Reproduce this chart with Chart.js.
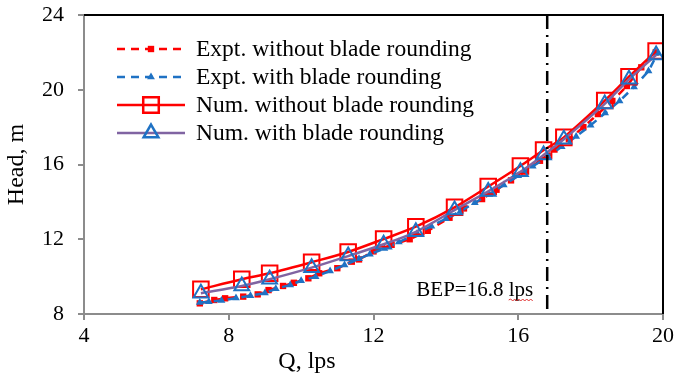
<!DOCTYPE html>
<html>
<head>
<meta charset="utf-8">
<script src="https://cdn.jsdelivr.net/npm/chart.js@4.4.1/dist/chart.umd.min.js"></script>
<style>
  html, body { margin: 0; padding: 0; background: #fff; }
</style>
</head>
<body>
<canvas id="myChart" width="676" height="378"></canvas>
<script>
// --- data ---
const xTicks = [4, 8, 12, 16, 20];
const yTicks = [8, 12, 16, 20, 24];
const bepQ = 16.8;

const qExptWithout = [7.2, 7.6, 7.9, 8.4, 8.8, 9.1, 9.5, 9.8, 10.2, 10.5, 11.0, 11.4, 11.6, 12.0, 12.5, 13.0, 13.5, 14.1, 14.5, 15.0, 15.4, 15.8, 16.2, 16.6, 17.0, 17.4, 17.8, 18.2, 18.6, 19.0, 19.4, 19.8];
const hExptWithout = [8.57, 8.75, 8.84, 8.93, 9.05, 9.28, 9.50, 9.67, 9.91, 10.18, 10.45, 10.80, 10.92, 11.35, 11.70, 12.00, 12.45, 13.15, 13.65, 14.15, 14.65, 15.15, 15.65, 16.20, 16.80, 17.35, 18.00, 18.70, 19.40, 20.20, 21.20, 22.00];

const qExptWith = [7.2, 7.45, 7.8, 8.2, 8.6, 9.0, 9.3, 9.7, 10.0, 10.4, 10.8, 11.2, 11.6, 11.9, 12.3, 12.7, 13.2, 13.6, 14.0, 14.4, 14.8, 15.2, 15.6, 16.0, 16.4, 16.8, 17.2, 17.6, 18.0, 18.4, 18.8, 19.2, 19.6, 19.85];
const hExptWith = [8.62, 8.65, 8.72, 8.85, 8.98, 9.12, 9.35, 9.55, 9.78, 10.00, 10.30, 10.62, 10.95, 11.20, 11.50, 11.85, 12.30, 12.70, 13.10, 13.50, 13.95, 14.40, 14.90, 15.40, 15.90, 16.40, 16.95, 17.50, 18.10, 18.75, 19.40, 20.15, 21.00, 21.95];

const qNum = [7.23, 8.36, 9.13, 10.29, 11.30, 12.28, 13.17, 14.24, 15.17, 16.06, 16.70, 17.26, 18.39, 19.06, 19.81];
const hNumWithout = [9.32, 9.86, 10.18, 10.77, 11.32, 12.01, 12.67, 13.71, 14.82, 15.92, 16.77, 17.45, 19.42, 20.70, 22.07];
const hNumWith = [9.11, 9.50, 9.86, 10.48, 11.10, 11.73, 12.40, 13.56, 14.56, 15.61, 16.51, 17.35, 19.24, 20.56, 21.86];

const seriesNames = ['Expt. without blade rounding', 'Expt. with blade rounding', 'Num. without blade rounding', 'Num. with blade rounding'];

const pts = (xs, ys) => xs.map((x, i) => ({ x: x, y: ys[i] }));

const RED = '#ff0000';
const BLUE = '#1f72c4';
const PURPLE = '#8064a2';
const SERIF = "'Liberation Serif', 'Times New Roman', serif";

// frame, BEP line, legend, x title
const extras = {
  id: 'extras',
  afterDatasetsDraw(chart) {
    const ctx = chart.ctx;
    const a = chart.chartArea;
    const xs = chart.scales.x;

    // BEP dash-dot line
    const bx = xs.getPixelForValue(bepQ);
    ctx.save();
    ctx.strokeStyle = '#000';
    ctx.lineWidth = 2.5;
    ctx.setLineDash([14, 6, 2, 6]);
    ctx.beginPath();
    ctx.moveTo(bx, a.top);
    ctx.lineTo(bx, a.bottom);
    ctx.stroke();
    ctx.restore();

    // top and right frame
    ctx.save();
    ctx.strokeStyle = '#000';
    ctx.lineWidth = 2;
    ctx.beginPath();
    ctx.moveTo(a.left, a.top);
    ctx.lineTo(a.right, a.top);
    ctx.lineTo(a.right, a.bottom);
    ctx.stroke();
    ctx.restore();

    // BEP label
    ctx.save();
    ctx.font = '21px ' + SERIF;
    ctx.fillStyle = '#000';
    ctx.textAlign = 'right';
    ctx.textBaseline = 'middle';
    ctx.fillText('BEP=16.8 lps', bx - 14, a.bottom - 24);
    // spell-check squiggle under "lps"
    const w = ctx.measureText('lps').width;
    ctx.strokeStyle = '#e03030';
    ctx.lineWidth = 1;
    ctx.beginPath();
    let sx = bx - 14 - w;
    const sy = a.bottom - 14;
    ctx.moveTo(sx, sy);
    let up = true;
    for (let px = sx + 2; px <= bx - 14; px += 2) {
      ctx.lineTo(px, sy + (up ? -1 : 1));
      up = !up;
    }
    ctx.stroke();
    ctx.restore();

    // legend
    const x0 = 117, x1 = 185, tx = 196;
    const rowY = [49, 77, 105, 133];
    chart.data.datasets.forEach((ds, r) => {
      const y = rowY[r];
      ctx.save();
      ctx.strokeStyle = ds.borderColor;
      ctx.lineWidth = ds.borderWidth;
      ctx.setLineDash(ds.borderDash || []);
      ctx.beginPath();
      ctx.moveTo(x0, y);
      ctx.lineTo(x1, y);
      ctx.stroke();
      ctx.setLineDash([]);
      ctx.fillStyle = ds.pointBackgroundColor;
      ctx.strokeStyle = ds.pointBorderColor;
      Chart.helpers.drawPoint(ctx, {
        pointStyle: ds.pointStyle,
        radius: ds.pointRadius,
        rotation: 0,
        borderWidth: ds.pointBorderWidth
      }, (x0 + x1) / 2, y);
      ctx.font = '23.5px ' + SERIF;
      ctx.fillStyle = '#000';
      ctx.textAlign = 'left';
      ctx.textBaseline = 'middle';
      ctx.fillText(ds.label, tx, y + 1);
      ctx.restore();
    });

    // x axis title
    ctx.save();
    ctx.font = '24px ' + SERIF;
    ctx.fillStyle = '#000';
    ctx.textAlign = 'center';
    ctx.textBaseline = 'middle';
    ctx.fillText('Q, lps', 307, 362);
    ctx.restore();
  }
};

const ctx = document.getElementById('myChart');

new Chart(ctx, {
  type: 'line',
  data: {
    datasets: [
      {
        label: seriesNames[0],
        data: pts(qExptWithout, hExptWithout),
        borderColor: RED,
        borderWidth: 2.5,
        borderDash: [8, 6],
        pointStyle: 'rect',
        pointRadius: 4.5,
        pointBorderWidth: 0,
        pointBackgroundColor: RED,
        pointBorderColor: RED,
        tension: 0,
        order: 3
      },
      {
        label: seriesNames[1],
        data: pts(qExptWith, hExptWith),
        borderColor: BLUE,
        borderWidth: 2.5,
        borderDash: [8, 6],
        pointStyle: 'triangle',
        pointRadius: 4.5,
        pointBorderWidth: 0,
        pointBackgroundColor: BLUE,
        pointBorderColor: BLUE,
        tension: 0,
        order: 2
      },
      {
        label: seriesNames[2],
        data: pts(qNum, hNumWithout),
        borderColor: RED,
        borderWidth: 2.5,
        pointStyle: 'rect',
        pointRadius: 11,
        pointBorderWidth: 2,
        pointBackgroundColor: 'rgba(0,0,0,0)',
        pointBorderColor: RED,
        tension: 0.3,
        order: 1
      },
      {
        label: seriesNames[3],
        data: pts(qNum, hNumWith),
        borderColor: PURPLE,
        borderWidth: 2.5,
        pointStyle: 'triangle',
        pointRadius: 8.5,
        pointBorderWidth: 2,
        pointBackgroundColor: 'rgba(0,0,0,0)',
        pointBorderColor: BLUE,
        tension: 0.3,
        order: 0
      }
    ]
  },
  options: {
    responsive: false,
    animation: false,
    layout: {
      padding: { top: 15, right: 5, left: 0, bottom: 0 }
    },
    plugins: {
      legend: false,
      tooltip: { enabled: false }
    },
    scales: {
      x: {
        type: 'linear',
        min: 4,
        max: 20,
        afterBuildTicks: s => { s.ticks = xTicks.map(v => ({ value: v })); },
        afterFit: s => {
          s.height = 64;
          s.paddingLeft = 0;
          s.paddingRight = 0;
        },
        ticks: {
          font: { family: SERIF, size: 22 },
          color: '#000',
          padding: 3,
          maxRotation: 0
        },
        grid: {
          drawOnChartArea: false,
          tickLength: 6,
          color: '#8c8c8c',
          lineWidth: 2
        },
        border: { color: '#8c8c8c', width: 2 }
      },
      y: {
        min: 8,
        max: 24,
        afterBuildTicks: s => { s.ticks = yTicks.map(v => ({ value: v })); },
        afterFit: s => {
          s.width = 84;
          s.paddingTop = 0;
          s.paddingBottom = 0;
        },
        ticks: {
          font: { family: SERIF, size: 22 },
          color: '#000',
          padding: 14
        },
        grid: {
          drawOnChartArea: false,
          tickLength: 6,
          color: '#8c8c8c',
          lineWidth: 2
        },
        border: { color: '#8c8c8c', width: 2 },
        title: {
          display: true,
          text: 'Head, m',
          font: { family: SERIF, size: 24 },
          color: '#000',
          padding: { top: 2, bottom: 4 }
        }
      }
    }
  },
  plugins: [extras]
});
</script>
</body>
</html>
